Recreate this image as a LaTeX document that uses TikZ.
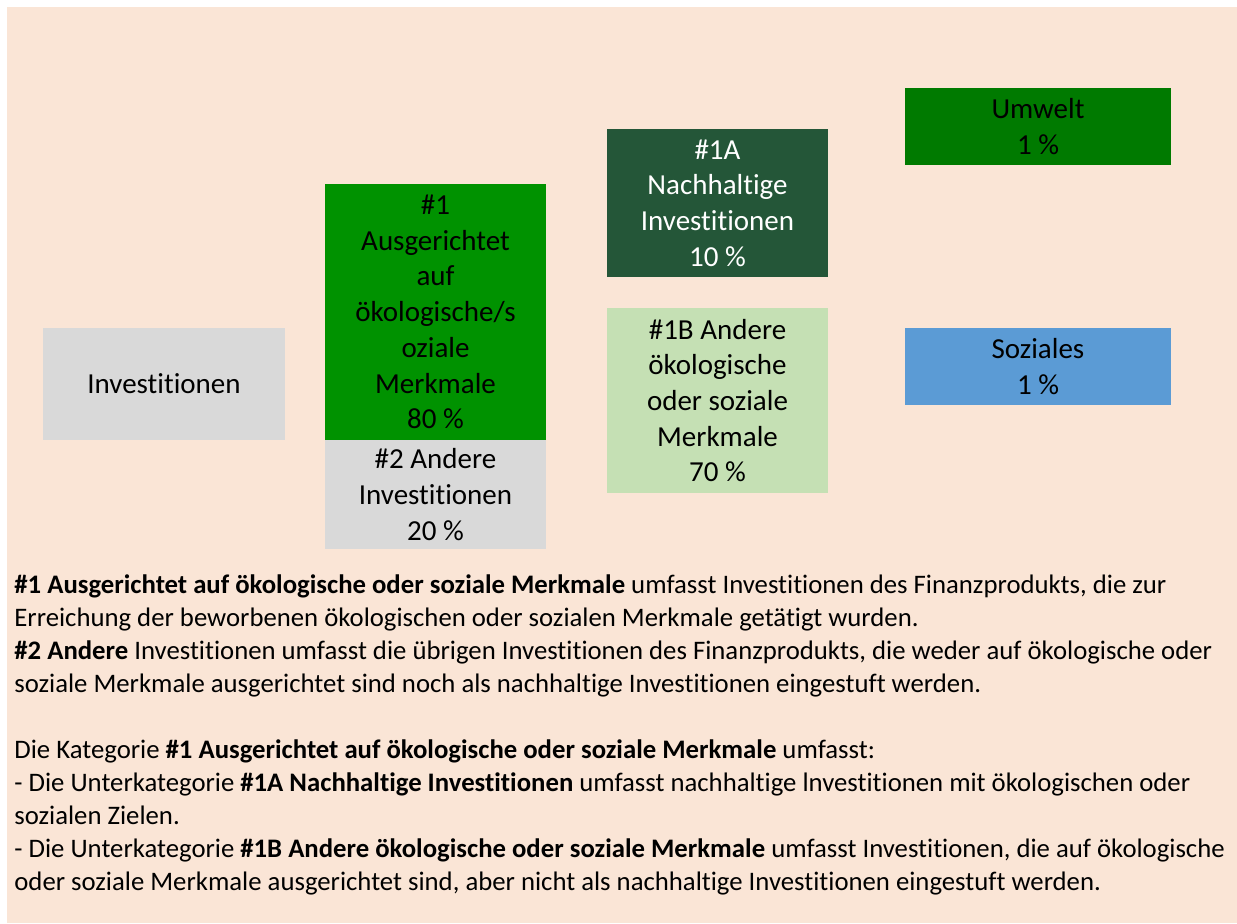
\documentclass[tikz,border=0pt]{standalone}
\usepackage{fontspec}
\setmainfont{Carlito}[Ligatures=NoCommon]
\definecolor{bgPeach}{RGB}{250,229,214}
\definecolor{boxGrey}{RGB}{217,217,217}
\definecolor{boxGreen}{RGB}{0,146,0}
\definecolor{boxDark}{RGB}{36,86,56}
\definecolor{boxLight}{RGB}{197,224,180}
\definecolor{boxEnv}{RGB}{0,122,0}
\definecolor{boxSoc}{RGB}{91,155,213}

\begin{document}
\begin{tikzpicture}[x=0.5pt,y=-0.5pt,
  cat/.style={rectangle,inner sep=0pt,align=center,font=\fontsize{14.5}{17.85}\selectfont},
  desc/.style={inner sep=0pt,align=left,font=\fontsize{13.37}{16.5}\selectfont}]
\useasboundingbox (0,0) rectangle (1237,923);
\fill[white] (0,0) rectangle (1237,923);
\fill[bgPeach] (7,7) rectangle (1237,923);
% left column
\node[cat,fill=boxGrey,minimum width=121pt,minimum height=56pt] (inv) at (164,384) {Investitionen};
% #1 and #2
\node[cat,fill=boxGreen,minimum width=110.5pt,minimum height=128pt] (one) at (435.5,312)
  {\#1\\Ausgerichtet\\auf\\ökologische/s\\oziale\\Merkmale\\80~\%};
\node[cat,fill=boxGrey,minimum width=110.5pt,minimum height=54.5pt] (two) at (435.5,494.5)
  {\#2 Andere\\Investitionen\\20~\%};
% #1A and #1B
\node[cat,fill=boxDark,text=white,minimum width=110.5pt,minimum height=74pt] (oneA) at (717.5,203)
  {\#1A\\Nachhaltige\\Investitionen\\10~\%};
\node[cat,fill=boxLight,minimum width=110.5pt,minimum height=92.5pt] (oneB) at (717.5,400.5)
  {\#1B Andere\\ökologische\\oder soziale\\Merkmale\\70~\%};
% right column
\node[cat,fill=boxEnv,minimum width=133pt,minimum height=38.5pt] (env) at (1038,126.5) {Umwelt\\1~\%};
\node[cat,fill=boxSoc,minimum width=133pt,minimum height=38.5pt] (soc) at (1038,366.5) {Soziales\\1~\%};
% explanation
\node[desc,anchor=north west] (note) at (14,574) {%
  \textbf{\#1 Ausgerichtet auf ökologische oder soziale Merkmale} umfasst Investitionen des Finanzprodukts, die zur\\
  Erreichung der beworbenen ökologischen oder sozialen Merkmale getätigt wurden.\\
  \textbf{\#2 Andere} Investitionen umfasst die übrigen Investitionen des Finanzprodukts, die weder auf ökologische oder\\
  soziale Merkmale ausgerichtet sind noch als nachhaltige Investitionen eingestuft werden.\\[16.5pt]
  Die Kategorie \textbf{\#1 Ausgerichtet auf ökologische oder soziale Merkmale} umfasst:\\
  - Die Unterkategorie \textbf{\#1A Nachhaltige Investitionen} umfasst nachhaltige lnvestitionen mit ökologischen oder\\
  sozialen Zielen.\\
  - Die Unterkategorie \textbf{\#1B Andere ökologische oder soziale Merkmale} umfasst Investitionen, die auf ökologische\\
  oder soziale Merkmale ausgerichtet sind, aber nicht als nachhaltige Investitionen eingestuft werden.};
\end{tikzpicture}
\end{document}
